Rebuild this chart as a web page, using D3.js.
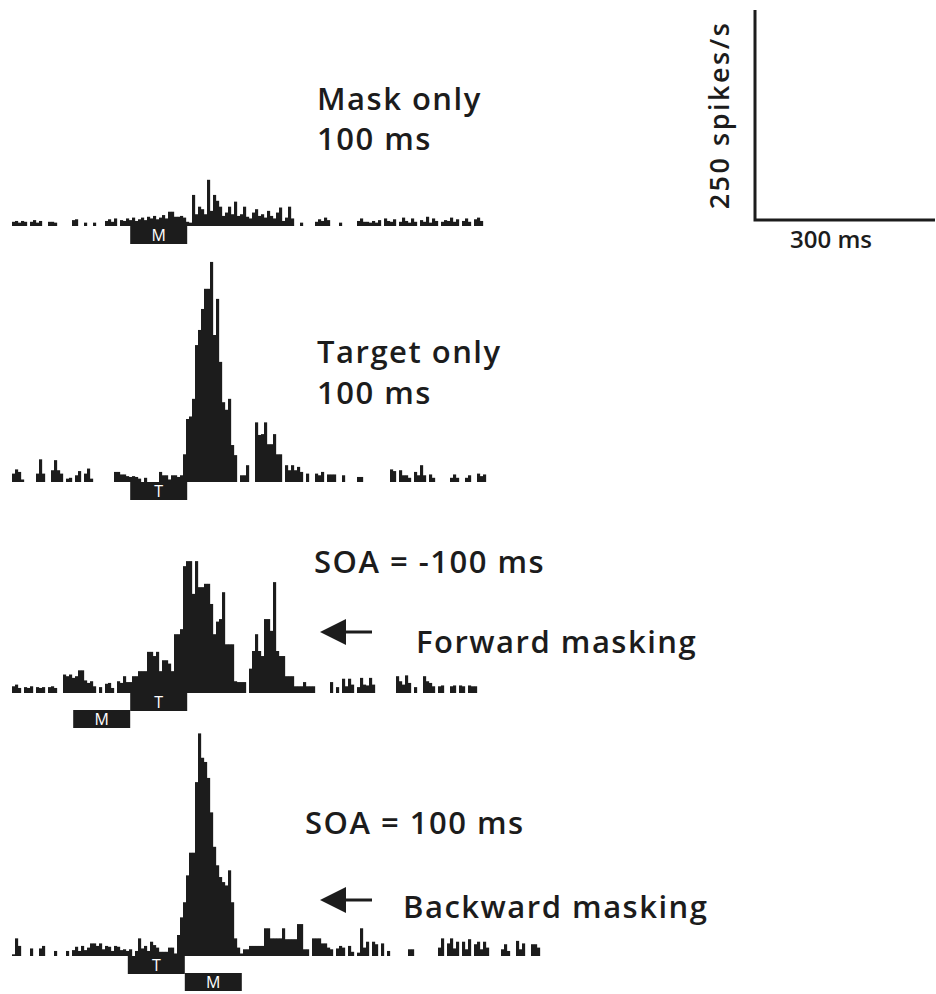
<!DOCTYPE html>
<html><head><meta charset="utf-8">
<script src="https://cdn.jsdelivr.net/npm/d3@7"></script>
<style>body{margin:0;background:#fff}svg{display:block}</style>
</head><body>
<svg id="c" width="936" height="994"></svg>
<script>
// ---- data (spikes/s per 5 ms bin) ----
const binMs = 5;
const maskOnly = [
5,6,4,6,5,0,5,7,4,6, 0,0,5,5,4,0,0,0,0,0, 7,8,0,0,4,0,0,4,0,0, 0,6,8,5,9,0,7,6,9,7,
10,6,8,10,7,11,9,12,8,10, 13,9,17,17,11,11,12,10,5,4, 37,14,23,20,14,55,18,37,30,23,
12,16,23,14,29,12,14,23,11,9, 16,20,12,14,10,18,12,9,16,22, 6,10,23,9,0,0,4,0,0,0,
0,5,8,6,10,7,0,0,0,4, 0,0,0,0,0,6,9,5,5,4, 6,4,7,0,9,6,5,8,0,5, 10,6,4,9,5,0,7,5,11,4,
9,6,0,5,7,6,10,5,8,0, 6,9,5,0,8,10,6];
const targetOnly = [
10,15,12,3,0,0,0,0,10,27, 10,0,0,14,26,14,10,0,4,5, 0,8,13,0,10,16,4,0,0,0, 0,0,0,0,12,12,9,9,7,6,
7,6,4,0,5,0,0,0,0,12, 8,8,3,8,8,6,8,33,75,78, 99,163,181,206,230,230,262,175,218,143,
95,86,99,44,32,0,8,8,20,0, 0,71,56,57,71,45,45,57,33,33, 0,20,14,20,14,18,12,0,10,0,
0,10,8,12,0,9,9,9,0,0, 8,0,0,0,0,6,6,0,0,0, 0,0,0,0,0,0,15,13,0,14, 8,8,5,0,12,8,20,8,0,9,
5,0,0,0,0,0,5,9,5,0, 0,5,8,0,0,10,7,9];
const forwardSOA = [
8,10,6,0,7,6,8,0,7,6, 7,0,7,8,6,0,0,22,20,22, 18,20,27,27,15,12,14,8,0,7, 0,11,12,6,0,14,12,20,13,13,
20,20,26,26,26,49,49,44,49,26, 39,39,35,26,70,70,76,151,157,157, 118,157,126,126,130,130,106,70,85,88,
120,58,58,58,14,13,13,13,0,29, 50,70,50,44,88,88,74,132,50,44, 44,20,20,20,8,8,8,13,8,8,
8,0,0,0,0,0,13,0,7,0, 17,8,17,10,0,7,18,10,9,18, 10,0,0,0,0,0,0,0,20,14, 10,21,12,0,7,0,0,20,14,12,
8,0,8,9,0,0,8,9,0,9, 8,0,9,8,8];
const backwardSOA = [
2,21,12,0,0,0,9,0,0,9, 12,0,0,0,6,0,0,0,6,0, 7,11,6,12,7,10,15,15,12,15, 8,12,11,6,12,11,7,8,6,8,
0,6,21,9,12,6,17,13,10,5, 5,5,10,10,3,25,46,64,96,123, 123,207,265,236,231,212,171,130,108,94,
88,84,102,64,21,10,3,8,8,12, 12,12,12,12,33,33,21,21,21,21, 33,20,20,20,20,38,38,8,8,0,
21,21,21,15,15,10,8,0,9,12, 10,0,12,5,0,4,33,10,17,0, 17,14,0,15,0,6,0,0,0,0,
0,0,8,8,0,0,0,0,0,0, 0,0,10,21,0,15,21,9,17,0, 17,8,20,0,14,17,8,17,10,0,
0,0,0,8,14,6,0,0,18,8, 15,0,0,14,14,10];

// stimulus bars: [label, start ms, end ms, row]
const maskOnlyStim = [["M", 197, 292, 0]];
const targetOnlyStim = [["T", 197, 292, 0]];
const forwardStim = [["T", 197, 292, 0], ["M", 102, 197, 1]];
const backwardStim = [["T", 193, 288, 0], ["M", 288, 383, 1]];

const titles1 = ["Mask only", "Target only", "SOA = -100 ms", "SOA = 100 ms"];
const titles2 = ["100 ms", "100 ms", "", ""];
const arrowLabels = ["", "", "Forward masking", "Backward masking"];
const scaleRate = 250, scaleTime = 300;
const scaleRateLabel = "250 spikes/s", scaleTimeLabel = "300 ms";

// ---- drawing ----
const svg = d3.select("#c");
const ink = "#1c1c1c";
const font = "'Open Sans', sans-serif";
svg.append("rect").attr("width", 936).attr("height", 994).attr("fill", "#fff");

const x = d3.scaleLinear().domain([0, 300]).range([0, 180]);   // ms -> px
const h = d3.scaleLinear().domain([0, 250]).range([0, 210]);   // spikes/s -> px

const panels = [
  {data: maskOnly, stim: maskOnlyStim, base: 226, x0: 12, tx: 317, ty1: 110, ty2: 150},
  {data: targetOnly, stim: targetOnlyStim, base: 482, x0: 12, tx: 317, ty1: 363, ty2: 404},
  {data: forwardSOA, stim: forwardStim, base: 693, x0: 12, tx: 314, ty1: 573, ax: 320, ay: 632, lx: 416, ly: 653},
  {data: backwardSOA, stim: backwardStim, base: 956, x0: 12, tx: 305, ty1: 834, ax: 320, ay: 900, lx: 403, ly: 918}
];

function label(x0, y0, txt) {
  svg.append("text").attr("x", x0).attr("y", y0).attr("fill", ink)
    .attr("font-family", font).attr("font-weight", 600).attr("font-size", 31)
    .attr("letter-spacing", 1.5).text(txt);
}

panels.forEach((p, k) => {
  const g = svg.append("g").attr("transform", `translate(${p.x0},${p.base})`);
  g.selectAll("rect.bin").data(p.data).join("rect").attr("class", "bin")
    .attr("x", (d, i) => x(i * binMs))
    .attr("width", x(binMs) + 0.15)
    .attr("y", d => -h(d))
    .attr("height", d => h(d))
    .attr("fill", ink);
  const sg = g.selectAll("g.stim").data(p.stim).join("g").attr("class", "stim");
  sg.append("rect")
    .attr("x", d => x(d[1])).attr("width", d => x(d[2]) - x(d[1]))
    .attr("y", d => d[3] * 17).attr("height", 18).attr("fill", ink);
  sg.append("text")
    .attr("x", d => (x(d[1]) + x(d[2])) / 2).attr("y", d => d[3] * 17 + 15)
    .attr("text-anchor", "middle").attr("fill", "#fff")
    .attr("font-family", font).attr("font-size", 16).text(d => d[0]);

  label(p.tx, p.ty1, titles1[k]);
  if (titles2[k]) label(p.tx, p.ty2, titles2[k]);
  if (arrowLabels[k]) {
    svg.append("path")
      .attr("d", `M${p.ax},${p.ay} L${p.ax + 26},${p.ay - 13} L${p.ax + 26},${p.ay + 13} Z`)
      .attr("fill", ink);
    svg.append("line").attr("x1", p.ax + 20).attr("x2", p.ax + 52)
      .attr("y1", p.ay).attr("y2", p.ay).attr("stroke", ink).attr("stroke-width", 3);
    label(p.lx, p.ly, arrowLabels[k]);
  }
});

// scale bar
const sx = 755, sy = 220;
svg.append("path")
  .attr("d", `M${sx},${sy - h(scaleRate)} L${sx},${sy} L${sx + x(scaleTime)},${sy}`)
  .attr("fill", "none").attr("stroke", ink).attr("stroke-width", 3);
svg.append("text").attr("transform", `translate(${sx - 26},${sy - h(scaleRate) / 2}) rotate(-90)`)
  .attr("text-anchor", "middle").attr("fill", ink).attr("letter-spacing", 2.5)
  .attr("font-family", font).attr("font-weight", 600).attr("font-size", 27).text(scaleRateLabel);
svg.append("text").attr("x", sx + 76).attr("y", sy + 28).attr("text-anchor", "middle").attr("fill", ink)
  .attr("font-family", font).attr("font-weight", 600).attr("font-size", 24).text(scaleTimeLabel);
</script>
</body></html>
